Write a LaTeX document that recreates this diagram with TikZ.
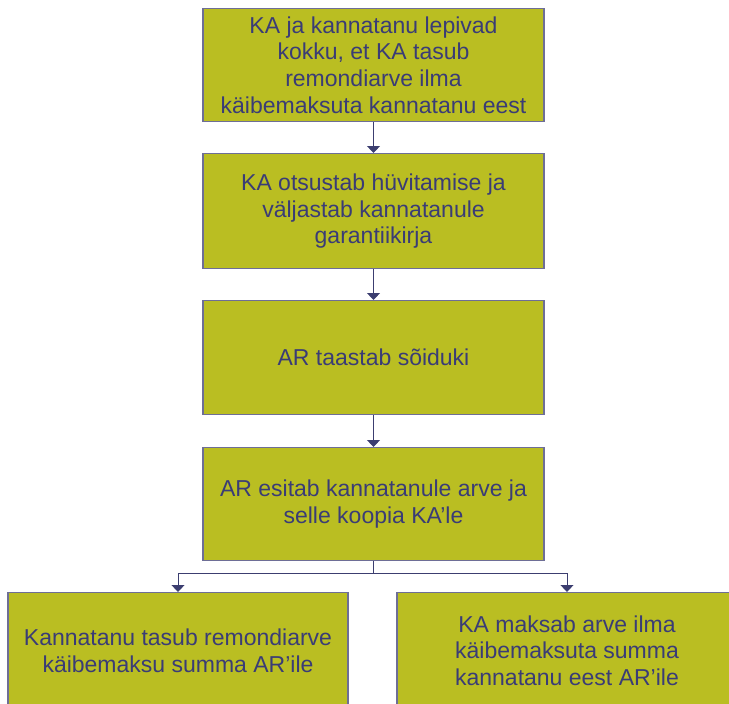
\documentclass[tikz,border=0pt]{standalone}
\usepackage{fontspec}
\setmainfont{Liberation Sans}
\usetikzlibrary{arrows.meta}
\definecolor{oliiv}{RGB}{186,190,34}
\definecolor{tekst}{RGB}{58,60,118}
\definecolor{serv}{RGB}{110,110,150}
\definecolor{joon}{RGB}{60,62,112}

\begin{document}
\begin{tikzpicture}[x=1pt,y=-1pt,
   box/.style={draw=serv,line width=1.2pt,fill=oliiv,text=tekst,align=center,
      inner sep=0pt,anchor=north,minimum width=341pt,
      font=\fontsize{23}{26.7}\selectfont},
   arr/.style={draw=joon,line width=1pt,-{Triangle[width=13pt,length=7pt]}}]
   \useasboundingbox (0,0) rectangle (729,704);
   \clip (0,0) rectangle (729,704);

   \node[box,minimum height=113pt] (kokkulepe) at (373.5,8)
      {KA ja kannatanu lepivad\\kokku, et KA tasub\\remondiarve ilma\\käibemaksuta kannatanu eest};
   \node[box,minimum height=115pt] (garantii) at (373.5,153)
      {KA otsustab hüvitamise ja\\väljastab kannatanule\\garantiikirja};
   \node[box,minimum height=114pt] (taastamine) at (373.5,300)
      {AR taastab sõiduki};
   \node[box,minimum height=113pt] (arve) at (373.5,447)
      {AR esitab kannatanule arve ja\\selle koopia KA’le};

   \node[box,minimum width=340pt,minimum height=116pt] (tasub) at (178,592)
      {Kannatanu tasub remondiarve\\käibemaksu summa AR’ile};
   \node[box,minimum width=340pt,minimum height=116pt] (maksab) at (567,592)
      {KA maksab arve ilma\\käibemaksuta summa\\kannatanu eest AR’ile};

   \draw[arr] (kokkulepe) -- (garantii);
   \draw[arr] (garantii) -- (taastamine);
   \draw[arr] (taastamine) -- (arve);

   \draw[draw=joon,line width=1pt] (arve.south) -- ++(0,12) coordinate (hargnemine);
   \draw[arr] (hargnemine) -| (tasub.north);
   \draw[arr] (hargnemine) -| (maksab.north);

 \end{tikzpicture}
\end{document}
